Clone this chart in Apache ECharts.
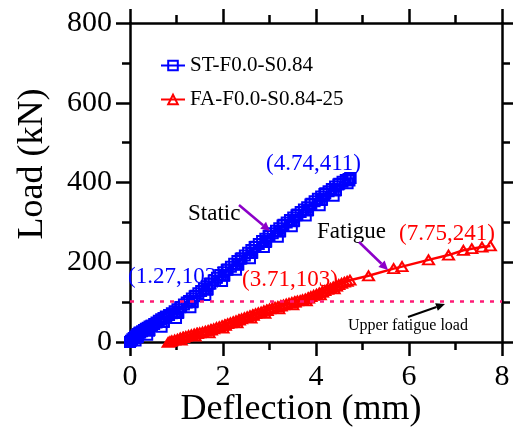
<!DOCTYPE html>
<html>
<head>
<meta charset="utf-8">
<script src="https://cdn.jsdelivr.net/npm/echarts@6/dist/echarts.min.js"></script>
<style>html,body{margin:0;padding:0;background:#fff}#c{width:513px;height:435px}</style>
</head>
<body>
<div id="c"></div>
<script>
// ---- data ----
var xTicks = [0, 2, 4, 6, 8];
var yTicks = [0, 200, 400, 600, 800];
var seriesNames = ['ST-F0.0-S0.84', 'FA-F0.0-S0.84-25'];
var staticData = [[0,0],[0.02,3],[0.05,7],[0.08,10],[0.11,14],[0.14,17],[0.17,20],[0.2,23],[0.16,12],[0.12,4],[0.17,14],[0.22,24],[0.26,27],[0.3,30],[0.34,33],[0.38,36],[0.42,39],[0.46,41],[0.41,28],[0.37,18],[0.42,30],[0.47,41],[0.52,45],[0.57,49],[0.62,53],[0.67,57],[0.72,60],[0.77,64],[0.72,50],[0.68,38],[0.73,51],[0.78,63],[0.84,68],[0.9,72],[0.96,77],[1.02,82],[1.08,87],[1.03,73],[0.99,60],[1.04,74],[1.1,88],[1.16,94],[1.22,99],[1.27,103],[1.33,109],[1.39,115],[1.34,100],[1.3,87],[1.35,101],[1.41,116],[1.47,122],[1.53,128],[1.59,134],[1.65,140],[1.71,146],[1.66,131],[1.62,118],[1.67,132],[1.73,147],[1.8,154],[1.87,161],[1.94,168],[2.01,175],[2.08,181],[2.02,166],[1.98,153],[2.03,167],[2.1,182],[2.17,189],[2.24,196],[2.31,203],[2.38,209],[2.32,194],[2.28,181],[2.33,195],[2.4,210],[2.47,217],[2.54,224],[2.61,231],[2.68,238],[2.62,223],[2.58,210],[2.63,224],[2.7,239],[2.77,246],[2.84,253],[2.91,259],[2.98,266],[2.92,251],[2.88,238],[2.93,252],[3.0,267],[3.07,273],[3.14,279],[3.21,285],[3.28,292],[3.22,277],[3.18,264],[3.23,278],[3.3,294],[3.37,300],[3.44,306],[3.51,312],[3.58,318],[3.52,303],[3.48,290],[3.53,304],[3.6,320],[3.67,326],[3.74,332],[3.81,338],[3.88,345],[3.82,330],[3.78,317],[3.83,331],[3.9,347],[3.97,353],[4.04,359],[4.11,365],[4.18,371],[4.12,356],[4.08,343],[4.13,357],[4.2,373],[4.27,378],[4.34,384],[4.41,390],[4.48,395],[4.42,380],[4.38,367],[4.43,381],[4.5,397],[4.57,402],[4.64,406],[4.7,409],[4.74,411],[4.68,398],[4.72,405],[4.74,411]];
var fatigueData = [[0.82,-1],[0.86,1],[0.9,3],[0.96,5],[1.02,7],[1.08,10],[1.14,12],[1.1,5],[1.15,11],[1.2,14],[1.26,16],[1.32,18],[1.38,20],[1.44,22],[1.4,15],[1.45,21],[1.5,23],[1.56,25],[1.62,27],[1.68,29],[1.74,31],[1.7,23],[1.75,30],[1.8,33],[1.86,36],[1.92,38],[1.98,41],[2.04,43],[2.0,35],[2.05,42],[2.1,46],[2.16,48],[2.22,51],[2.28,53],[2.34,56],[2.3,48],[2.35,55],[2.4,58],[2.46,61],[2.52,63],[2.58,66],[2.64,68],[2.6,60],[2.65,67],[2.7,71],[2.76,73],[2.82,75],[2.88,78],[2.94,80],[2.9,72],[2.95,79],[3.0,83],[3.06,85],[3.12,87],[3.18,89],[3.24,91],[3.2,83],[3.25,90],[3.3,93],[3.36,95],[3.42,97],[3.48,99],[3.54,101],[3.5,93],[3.55,100],[3.6,103],[3.66,104],[3.71,106],[3.77,108],[3.83,111],[3.79,103],[3.84,110],[3.89,114],[3.95,117],[4.01,120],[4.07,123],[4.13,126],[4.09,118],[4.14,125],[4.19,129],[4.25,132],[4.31,135],[4.37,138],[4.43,141],[4.39,133],[4.44,140],[4.49,144],[4.55,147],[4.61,150],[4.67,152],[4.73,155],[5.13,166],[5.67,184],[5.85,189],[6.42,206],[6.85,218],[7.17,230],[7.35,234],[7.57,238],[7.75,241]];
var upperFatigueLoad = 103;
var pointLabels = ['(4.74,411)', '(1.27,103)', '(3.71,103)', '(7.75,241)'];

var FONT = '"Liberation Serif","Times New Roman",serif';
var chart = echarts.init(document.getElementById('c'), null, {renderer: 'canvas'});

function axisCommon(showLabel, labelMargin) {
  return {
    axisLine: {show: true, onZero: false, lineStyle: {color: '#000', width: 2.5}},
    axisTick: {show: true, inside: false, length: 14, lineStyle: {color: '#000', width: 2.5}},
    minorTick: {show: true, splitNumber: 2, length: 8, lineStyle: {color: '#000', width: 2.5}},
    splitLine: {show: false},
    axisLabel: {show: showLabel, margin: labelMargin, fontFamily: FONT, fontSize: 30, color: '#000'}
  };
}

var xMain = Object.assign({type: 'value', position: 'bottom', min: xTicks[0], max: xTicks[xTicks.length-1], interval: 2}, axisCommon(true, 20));
var xTop = Object.assign({type: 'value', position: 'top', min: xTicks[0], max: xTicks[xTicks.length-1], interval: 2}, axisCommon(false, 8));
var yMain = Object.assign({type: 'value', position: 'left', min: yTicks[0], max: yTicks[yTicks.length-1], interval: 200}, axisCommon(true, 18));
var yRight = Object.assign({type: 'value', position: 'right', min: yTicks[0], max: yTicks[yTicks.length-1], interval: 200}, axisCommon(false, 8));

function arrow(x1, y1, x2, y2, color, w, hl, hw) {
  var dx = x2 - x1, dy = y2 - y1, L = Math.sqrt(dx*dx + dy*dy);
  var ux = dx / L, uy = dy / L;
  var bx = x2 - ux * hl, by = y2 - uy * hl;
  return [
    {type: 'line', shape: {x1: x1, y1: y1, x2: bx, y2: by}, style: {stroke: color, lineWidth: w}, z: 100},
    {type: 'polygon', shape: {points: [[x2, y2], [bx - uy * hw, by + ux * hw], [bx + uy * hw, by - ux * hw]]}, style: {fill: color}, z: 100}
  ];
}

function txt(x, y, s, color, size, align) {
  return {type: 'text', x: x, y: y, z: 100, style: {text: s, fill: color, font: size + 'px ' + FONT, textAlign: align || 'left', textVerticalAlign: 'middle'}};
}

var purple = '#8c00c8';
var graphics = [];
graphics.push(txt(266, 164, pointLabels[0], '#0000ff', 23));
graphics.push(txt(128, 277, pointLabels[1], '#0000ff', 23));
graphics.push(txt(242, 280, pointLabels[2], '#ff0000', 23));
graphics.push(txt(399, 234, pointLabels[3], '#ff0000', 23));
graphics.push(txt(188, 214, 'Static', '#000', 23));
graphics.push(txt(317, 232, 'Fatigue', '#000', 23));
graphics.push(txt(348, 326, 'Upper fatigue load', '#000', 16));
graphics = graphics.concat(arrow(239, 205, 270, 231, purple, 2.5, 9, 4.5));
graphics = graphics.concat(arrow(359, 242, 388, 270, purple, 2.5, 9, 4.5));
graphics = graphics.concat(arrow(408, 317, 445, 304, '#000', 2, 9, 4));
graphics.push({type: 'text', x: 301, y: 410, z: 100, style: {text: 'Deflection (mm)', fill: '#000', font: '36px ' + FONT, textAlign: 'center', textVerticalAlign: 'middle'}});
graphics.push({type: 'text', x: 33, y: 164, rotation: Math.PI / 2, z: 100, style: {text: 'Load (kN)', fill: '#000', font: '36px ' + FONT, textAlign: 'center', textVerticalAlign: 'middle'}});

var option = {
  animation: false,
  backgroundColor: '#fff',
  grid: {left: 130, right: 11, top: 23, bottom: 93, containLabel: false},
  xAxis: [xMain, xTop],
  yAxis: [yMain, yRight],
  legend: {
    show: true, orient: 'vertical', left: 155, top: 50, itemGap: 13,
    itemWidth: 24, itemHeight: 12,
    textStyle: {fontFamily: FONT, fontSize: 21, color: '#000'},
    data: seriesNames
  },
  series: [
    {
      name: seriesNames[0], type: 'line', data: staticData, clip: false,
      symbol: 'rect', symbolSize: 10, showSymbol: true,
      lineStyle: {color: '#0000ff', width: 2.5},
      itemStyle: {color: 'rgba(255,255,255,0)', borderColor: '#0000ff', borderWidth: 2},
      color: '#0000ff', z: 3
    },
    {
      name: seriesNames[1], type: 'line', data: fatigueData, clip: false,
      symbol: 'triangle', symbolSize: [11, 9], showSymbol: true,
      lineStyle: {color: '#ff0000', width: 2.5},
      itemStyle: {color: 'rgba(255,255,255,0)', borderColor: '#ff0000', borderWidth: 2},
      color: '#ff0000', z: 3,
      markLine: {
        silent: true, symbol: ['none', 'none'], label: {show: false},
        lineStyle: {color: '#ff1a75', width: 2.5, type: [4, 6]},
        data: [[{coord: [xTicks[0], upperFatigueLoad]}, {coord: [xTicks[xTicks.length-1], upperFatigueLoad]}]]
      }
    }
  ],
  graphic: graphics
};
chart.setOption(option);
</script>
</body>
</html>
